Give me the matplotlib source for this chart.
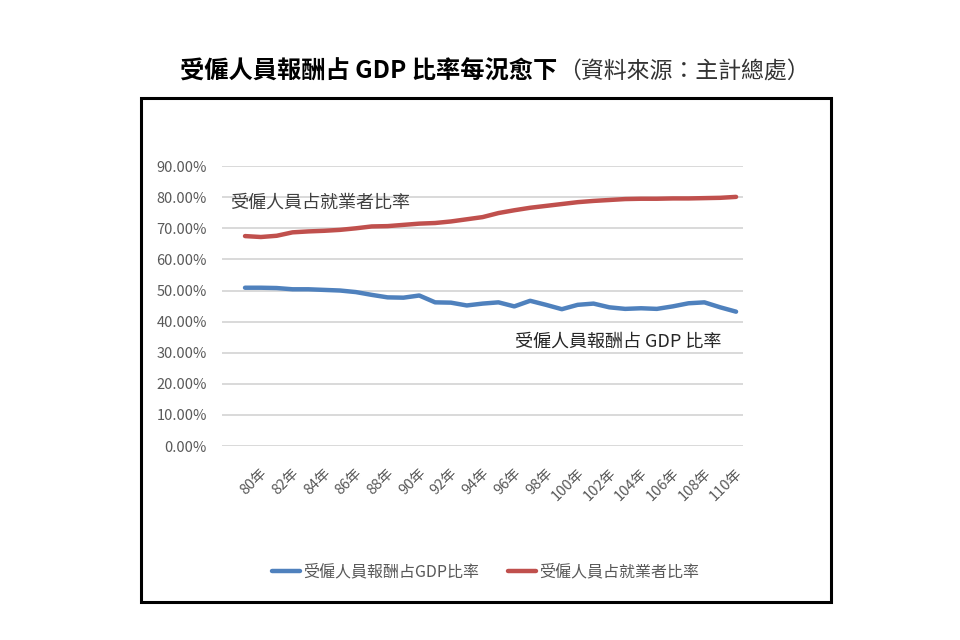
import matplotlib
matplotlib.use("Agg")
import matplotlib.pyplot as plt
from matplotlib.patches import Rectangle
from matplotlib.transforms import ScaledTranslation

plt.rcParams["font.family"] = ["Noto Sans CJK TC", "DejaVu Sans"]

# 民國年 80 ~ 111（標籤每兩年一個，111 年沒有標籤）
years = list(range(80, 112))
tick_labels = ["80年", "82年", "84年", "86年", "88年", "90年", "92年", "94年",
               "96年", "98年", "100年", "102年", "104年", "106年", "108年", "110年"]

# 受僱人員報酬占 GDP 比率 (%)
gdp_share = [50.9, 50.9, 50.8, 50.4, 50.4, 50.2, 50.0, 49.5, 48.6, 47.8,
             47.7, 48.4, 46.2, 46.1, 45.2, 45.8, 46.2, 44.9, 46.7, 45.4,
             44.0, 45.4, 45.8, 44.6, 44.1, 44.3, 44.1, 44.9, 45.9, 46.2,
             44.6, 43.2]

# 受僱人員占就業者比率 (%)
emp_share = [67.5, 67.2, 67.6, 68.7, 69.0, 69.2, 69.5, 70.0, 70.6, 70.7,
             71.1, 71.5, 71.7, 72.2, 72.9, 73.6, 74.9, 75.8, 76.6, 77.2,
             77.8, 78.4, 78.8, 79.1, 79.4, 79.5, 79.5, 79.6, 79.6, 79.7,
             79.8, 80.1]

blue = "#4F81BD"
red = "#C0504D"
gray = "#595959"

fig = plt.figure(figsize=(9.6, 6.4), dpi=100)

# outer black frame of the chart
fig.patches.append(Rectangle((0.1469, 0.0594), 0.7188, 0.7875, transform=fig.transFigure,
                             fill=False, edgecolor="black", linewidth=2.2))

# title: bold part + grey source part
fig.text(0.580, 0.8875, "受僱人員報酬占 GDP 比率每況愈下", ha="right", va="center",
         fontsize=17.5, fontweight="bold", color="black")
fig.text(0.581, 0.8875, "（資料來源：主計總處）", ha="left", va="center",
         fontsize=16.5, fontweight="light", color="#333333")

ax = fig.add_axes([0.2313, 0.303, 0.5427, 0.4375])
x = list(range(len(years)))
ax.plot(x, gdp_share, color=blue, linewidth=3.2, label="受僱人員報酬占GDP比率",
        solid_capstyle="round", solid_joinstyle="round")
ax.plot(x, emp_share, color=red, linewidth=3.2, label="受僱人員占就業者比率",
        solid_capstyle="round", solid_joinstyle="round")

ax.set_ylim(0, 90)
ax.set_xlim(-1.45, 31.44)
ax.set_yticks(range(0, 91, 10))
ax.set_yticklabels([f"{v:.2f}%" for v in range(0, 91, 10)])
ax.yaxis.grid(True, color="#d9d9d9", linewidth=1.4)
ax.set_axisbelow(True)
for s in ax.spines.values():
    s.set_visible(False)
ax.tick_params(axis="y", length=0, pad=11, labelsize=10.5, labelcolor=gray)

ax.set_xticks(x[::2])
ax.set_xticklabels(tick_labels, rotation=45, ha="right", va="top",
                   rotation_mode="anchor", fontsize=10.5, color=gray)
ax.tick_params(axis="x", length=0, pad=14)
shift = ScaledTranslation(0.15, 0, fig.dpi_scale_trans)
for lab in ax.get_xticklabels():
    lab.set_transform(lab.get_transform() + shift)

# in-chart labels
ax.text(-0.95, 78.1, "受僱人員占就業者比率", ha="left", va="center",
        fontsize=13, color="#404040")
ax.text(17.05, 33.7, "受僱人員報酬占 GDP 比率", ha="left", va="center",
        fontsize=13, color="#262626")

fig.legend(loc="center", bbox_to_anchor=(486 / 960, 1 - 572 / 640), ncol=2,
           frameon=False, handlelength=1.75, handletextpad=0.2, columnspacing=1.8,
           prop={"size": 11.5}, labelcolor=gray)

fig.savefig("out.png", dpi=100)
